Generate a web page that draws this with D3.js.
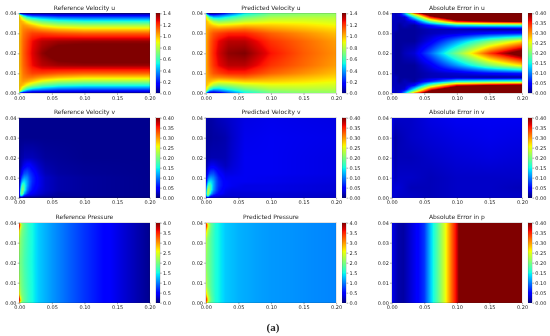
<!DOCTYPE html>
<html>
<head>
<meta charset="utf-8">
<script src="https://cdn.jsdelivr.net/npm/d3@7"></script>
<style>
  html, body { margin: 0; padding: 0; background: #fff; }
  #wrap { position: relative; width: 550px; height: 336px; overflow: hidden; }
  canvas, svg { position: absolute; left: 0; top: 0; }
  text { font-family: "DejaVu Sans", sans-serif; fill: #262626; }
</style>
</head>
<body>
<div id="wrap">
  <canvas id="heat" width="550" height="336"></canvas>
  <svg id="chart" width="550" height="336"></svg>
</div>
<script>
// values, rows go bottom to top
const uX = [0, 0.002, 0.006, 0.012, 0.02, 0.035, 0.06, 0.1, 0.15, 0.2];
const uY = [0, 0.001, 0.002, 0.004, 0.006, 0.008, 0.01, 0.014, 0.02, 0.026, 0.03, 0.032, 0.034, 0.036, 0.038, 0.039, 0.04];

const refU = [
  [0.5, 0, 0, 0, 0, 0, 0, 0, 0, 0],
  [0.9, 0.75, 0.45, 0.3, 0.22, 0.2, 0.16, 0.15, 0.15, 0.15],
  [0.95, 0.95, 0.75, 0.55, 0.45, 0.38, 0.31, 0.29, 0.29, 0.29],
  [0.95, 1.02, 0.98, 0.88, 0.78, 0.66, 0.58, 0.54, 0.54, 0.54],
  [0.95, 1.02, 1.05, 1.03, 0.98, 0.88, 0.8, 0.77, 0.77, 0.77],
  [0.96, 1.03, 1.08, 1.1, 1.1, 1.05, 1.0, 0.96, 0.96, 0.96],
  [0.97, 1.03, 1.1, 1.14, 1.18, 1.18, 1.15, 1.13, 1.13, 1.13],
  [0.98, 1.05, 1.12, 1.18, 1.26, 1.33, 1.36, 1.37, 1.37, 1.37],
  [0.98, 1.05, 1.13, 1.2, 1.28, 1.38, 1.47, 1.5, 1.5, 1.5],
  [0.98, 1.05, 1.12, 1.18, 1.26, 1.33, 1.36, 1.37, 1.37, 1.37],
  [0.97, 1.03, 1.1, 1.14, 1.18, 1.18, 1.15, 1.13, 1.13, 1.13],
  [0.96, 1.03, 1.08, 1.1, 1.1, 1.05, 1.0, 0.96, 0.96, 0.96],
  [0.95, 1.02, 1.05, 1.03, 0.98, 0.88, 0.8, 0.77, 0.77, 0.77],
  [0.95, 1.02, 0.98, 0.88, 0.78, 0.66, 0.58, 0.54, 0.54, 0.54],
  [0.95, 0.95, 0.75, 0.55, 0.45, 0.38, 0.31, 0.29, 0.29, 0.29],
  [0.9, 0.75, 0.45, 0.3, 0.22, 0.2, 0.16, 0.15, 0.15, 0.15],
  [0.5, 0, 0, 0, 0, 0, 0, 0, 0, 0]
];

const predU = [
  [0.6, 0.1, 0, 0.02, 0.05, 0.25, 0.5, 0.68, 0.72, 0.74],
  [0.85, 0.6, 0.3, 0.25, 0.3, 0.4, 0.58, 0.72, 0.75, 0.76],
  [0.95, 0.85, 0.6, 0.45, 0.45, 0.55, 0.68, 0.78, 0.8, 0.8],
  [1, 0.98, 0.9, 0.78, 0.72, 0.75, 0.82, 0.87, 0.87, 0.85],
  [1, 1, 1, 0.96, 0.92, 0.94, 0.98, 0.97, 0.94, 0.9],
  [1, 1.03, 1.06, 1.08, 1.08, 1.1, 1.12, 1.05, 1, 0.95],
  [1, 1.04, 1.1, 1.15, 1.18, 1.22, 1.22, 1.13, 1.06, 0.99],
  [1, 1.05, 1.13, 1.2, 1.27, 1.33, 1.33, 1.2, 1.12, 1.04],
  [1, 1.05, 1.14, 1.22, 1.3, 1.38, 1.4, 1.25, 1.14, 1.06],
  [1, 1.05, 1.13, 1.2, 1.27, 1.33, 1.33, 1.2, 1.12, 1.04],
  [1, 1.04, 1.1, 1.15, 1.18, 1.22, 1.22, 1.13, 1.06, 0.99],
  [1, 1.03, 1.06, 1.08, 1.08, 1.1, 1.12, 1.05, 1, 0.95],
  [1, 1, 1, 0.96, 0.92, 0.94, 0.98, 0.97, 0.94, 0.9],
  [1, 0.98, 0.9, 0.78, 0.72, 0.75, 0.82, 0.87, 0.87, 0.85],
  [0.95, 0.85, 0.6, 0.45, 0.45, 0.55, 0.68, 0.78, 0.8, 0.8],
  [0.85, 0.6, 0.3, 0.25, 0.3, 0.4, 0.58, 0.72, 0.75, 0.76],
  [0.6, 0.1, 0, 0.02, 0.05, 0.25, 0.5, 0.68, 0.72, 0.74]
];

const errU = [
  [0.02, 0.03, 0.02, 0.03, 0.12, 0.32, 0.5, 0.68, 0.72, 0.74],
  [0.02, 0.03, 0.02, 0.03, 0.08, 0.22, 0.42, 0.58, 0.6, 0.62],
  [0.02, 0.03, 0.02, 0.02, 0.03, 0.15, 0.35, 0.5, 0.53, 0.55],
  [0.02, 0.02, 0.02, 0.02, 0.02, 0.05, 0.2, 0.36, 0.4, 0.42],
  [0.02, 0.02, 0.02, 0.01, 0.02, 0.01, 0.06, 0.14, 0.16, 0.17],
  [0.02, 0.02, 0.02, 0.01, 0.01, 0.01, 0.02, 0.02, 0.01, 0.01],
  [0.02, 0.02, 0.01, 0.01, 0.01, 0.01, 0.02, 0.03, 0.05, 0.06],
  [0.02, 0.02, 0.01, 0.01, 0.01, 0.01, 0.04, 0.11, 0.2, 0.27],
  [0.02, 0.02, 0.01, 0.01, 0.02, 0.03, 0.09, 0.2, 0.34, 0.44],
  [0.02, 0.02, 0.01, 0.01, 0.01, 0.01, 0.04, 0.11, 0.2, 0.27],
  [0.02, 0.02, 0.01, 0.01, 0.01, 0.01, 0.02, 0.03, 0.05, 0.06],
  [0.02, 0.02, 0.02, 0.01, 0.01, 0.01, 0.02, 0.02, 0.01, 0.01],
  [0.02, 0.02, 0.02, 0.01, 0.02, 0.01, 0.06, 0.14, 0.16, 0.17],
  [0.02, 0.02, 0.02, 0.02, 0.02, 0.05, 0.2, 0.36, 0.4, 0.42],
  [0.02, 0.03, 0.02, 0.02, 0.03, 0.15, 0.35, 0.5, 0.53, 0.55],
  [0.02, 0.03, 0.02, 0.03, 0.08, 0.22, 0.42, 0.58, 0.6, 0.62],
  [0.02, 0.03, 0.02, 0.03, 0.12, 0.32, 0.5, 0.68, 0.72, 0.74]
];

const vX = [0, 0.002, 0.004, 0.006, 0.008, 0.012, 0.016, 0.02, 0.03, 0.04, 0.06, 0.1, 0.2];
const vY = [0, 0.001, 0.002, 0.004, 0.006, 0.008, 0.01, 0.012, 0.016, 0.02, 0.03, 0.04];

const refV = [
  [0, 0, 0, 0, 0, 0, 0, 0, 0, 0, 0, 0, 0],
  [0.02, 0.13, 0.14, 0.09, 0.06, 0.04, 0.03, 0.03, 0.02, 0.015, 0.01, 0.01, 0.005],
  [0.03, 0.17, 0.2, 0.16, 0.11, 0.07, 0.05, 0.04, 0.03, 0.02, 0.01, 0.01, 0.005],
  [0.03, 0.14, 0.2, 0.2, 0.16, 0.1, 0.07, 0.055, 0.035, 0.025, 0.015, 0.01, 0.005],
  [0.02, 0.1, 0.17, 0.18, 0.16, 0.115, 0.08, 0.06, 0.04, 0.025, 0.015, 0.01, 0.005],
  [0.015, 0.07, 0.12, 0.14, 0.14, 0.115, 0.085, 0.065, 0.04, 0.025, 0.015, 0.01, 0.005],
  [0.01, 0.05, 0.08, 0.1, 0.11, 0.105, 0.08, 0.065, 0.04, 0.025, 0.015, 0.01, 0.005],
  [0.01, 0.03, 0.05, 0.07, 0.08, 0.085, 0.07, 0.06, 0.035, 0.02, 0.012, 0.008, 0.005],
  [0.005, 0.015, 0.025, 0.035, 0.04, 0.05, 0.05, 0.04, 0.025, 0.015, 0.01, 0.007, 0.005],
  [0.005, 0.01, 0.015, 0.015, 0.02, 0.02, 0.02, 0.02, 0.015, 0.01, 0.008, 0.005, 0.005],
  [0.005, 0.005, 0.005, 0.005, 0.005, 0.005, 0.005, 0.005, 0.005, 0.005, 0.005, 0.005, 0.005],
  [0.005, 0.005, 0.005, 0.005, 0.005, 0.005, 0.005, 0.005, 0.005, 0.005, 0.005, 0.005, 0.005]
];

const predV = [
  [0.02, 0.04, 0.03, 0.02, 0.02, 0.02, 0.02, 0.02, 0.02, 0.02, 0.025, 0.03, 0.025],
  [0.05, 0.18, 0.17, 0.1, 0.07, 0.05, 0.04, 0.035, 0.03, 0.03, 0.03, 0.03, 0.025],
  [0.06, 0.22, 0.22, 0.17, 0.12, 0.08, 0.06, 0.05, 0.035, 0.03, 0.03, 0.03, 0.027],
  [0.05, 0.18, 0.23, 0.2, 0.16, 0.11, 0.08, 0.06, 0.04, 0.035, 0.035, 0.035, 0.03],
  [0.035, 0.13, 0.18, 0.18, 0.16, 0.115, 0.085, 0.065, 0.045, 0.04, 0.035, 0.035, 0.03],
  [0.025, 0.09, 0.13, 0.14, 0.14, 0.115, 0.085, 0.065, 0.045, 0.04, 0.04, 0.038, 0.032],
  [0.02, 0.06, 0.09, 0.105, 0.11, 0.1, 0.08, 0.06, 0.04, 0.04, 0.04, 0.038, 0.033],
  [0.015, 0.04, 0.06, 0.075, 0.08, 0.08, 0.065, 0.05, 0.035, 0.035, 0.04, 0.04, 0.035],
  [0.01, 0.02, 0.03, 0.035, 0.04, 0.04, 0.035, 0.03, 0.022, 0.03, 0.04, 0.04, 0.035],
  [0.01, 0.012, 0.015, 0.015, 0.017, 0.017, 0.017, 0.017, 0.018, 0.027, 0.04, 0.04, 0.035],
  [0.012, 0.01, 0.01, 0.01, 0.01, 0.012, 0.012, 0.013, 0.016, 0.025, 0.038, 0.04, 0.037],
  [0.02, 0.015, 0.013, 0.013, 0.013, 0.015, 0.018, 0.02, 0.024, 0.028, 0.035, 0.038, 0.035]
];

const evX = [0, 0.005, 0.01, 0.03, 0.06, 0.1, 0.15, 0.2];
const evY = [0, 0.005, 0.01, 0.02, 0.03, 0.04];

const errV = [
  [0.03, 0.03, 0.025, 0.025, 0.02, 0.025, 0.025, 0.025],
  [0.03, 0.03, 0.03, 0.02, 0.02, 0.025, 0.025, 0.02],
  [0.04, 0.02, 0.025, 0.025, 0.02, 0.025, 0.025, 0.025],
  [0.035, 0.015, 0.02, 0.02, 0.025, 0.03, 0.033, 0.03],
  [0.035, 0.012, 0.018, 0.025, 0.03, 0.035, 0.038, 0.035],
  [0.04, 0.025, 0.025, 0.025, 0.035, 0.04, 0.04, 0.04]
];

const pX = [0, 0.002, 0.004, 0.008, 0.015, 0.03, 0.05, 0.08, 0.1, 0.13, 0.16, 0.2];
const pY = [0, 0.001, 0.002, 0.004, 0.008, 0.02, 0.032, 0.036, 0.038, 0.039, 0.04];

const refP = [
  [3, 2.2, 1.9, 1.8, 1.6, 1.3, 1.1, 0.85, 0.7, 0.5, 0.3, 0.05],
  [3.6, 2.8, 2.1, 1.85, 1.6, 1.3, 1.1, 0.85, 0.7, 0.5, 0.3, 0.05],
  [3.6, 2.6, 2.1, 1.85, 1.6, 1.3, 1.1, 0.85, 0.7, 0.5, 0.3, 0.05],
  [2.7, 2.2, 2, 1.85, 1.6, 1.3, 1.1, 0.85, 0.7, 0.5, 0.3, 0.05],
  [2.3, 2.05, 1.95, 1.8, 1.6, 1.3, 1.1, 0.85, 0.7, 0.5, 0.3, 0.05],
  [2, 1.95, 1.9, 1.75, 1.58, 1.3, 1.1, 0.85, 0.7, 0.5, 0.3, 0.05],
  [2.3, 2.05, 1.95, 1.8, 1.6, 1.3, 1.1, 0.85, 0.7, 0.5, 0.3, 0.05],
  [2.7, 2.2, 2, 1.85, 1.6, 1.3, 1.1, 0.85, 0.7, 0.5, 0.3, 0.05],
  [3.6, 2.6, 2.1, 1.85, 1.6, 1.3, 1.1, 0.85, 0.7, 0.5, 0.3, 0.05],
  [3.6, 2.8, 2.1, 1.85, 1.6, 1.3, 1.1, 0.85, 0.7, 0.5, 0.3, 0.05],
  [3, 2.2, 1.9, 1.8, 1.6, 1.3, 1.1, 0.85, 0.7, 0.5, 0.3, 0.05]
];

const predP = [
  [3.2, 2.6, 2.1, 1.85, 1.55, 1.3, 1.2, 1.13, 1.1, 1.08, 1.05, 1.02],
  [3.8, 3.1, 2.4, 1.9, 1.55, 1.3, 1.2, 1.13, 1.1, 1.08, 1.05, 1.02],
  [3.7, 3, 2.4, 1.9, 1.55, 1.3, 1.2, 1.13, 1.1, 1.08, 1.05, 1.02],
  [3, 2.5, 2.2, 1.85, 1.55, 1.3, 1.2, 1.13, 1.1, 1.08, 1.05, 1.02],
  [2.4, 2.15, 2, 1.8, 1.55, 1.3, 1.2, 1.13, 1.1, 1.08, 1.05, 1.02],
  [2.1, 2, 1.95, 1.8, 1.55, 1.3, 1.2, 1.13, 1.1, 1.08, 1.05, 1.02],
  [2.4, 2.15, 2, 1.8, 1.55, 1.3, 1.2, 1.13, 1.1, 1.08, 1.05, 1.02],
  [3, 2.5, 2.2, 1.85, 1.55, 1.3, 1.2, 1.13, 1.1, 1.08, 1.05, 1.02],
  [3.7, 3, 2.4, 1.9, 1.55, 1.3, 1.2, 1.13, 1.1, 1.08, 1.05, 1.02],
  [3.8, 3.1, 2.4, 1.9, 1.55, 1.3, 1.2, 1.13, 1.1, 1.08, 1.05, 1.02],
  [3.2, 2.6, 2.1, 1.85, 1.55, 1.3, 1.2, 1.13, 1.1, 1.08, 1.05, 1.02]
];

const epX = [0, 0.005, 0.01, 0.018, 0.036, 0.05, 0.06, 0.07, 0.082, 0.092, 0.1, 0.105, 0.2];
const epY = [0, 0.04];
const errP = [
  [0.04, 0.025, 0.015, 0.012, 0.04, 0.07, 0.13, 0.18, 0.25, 0.32, 0.37, 0.42, 1],
  [0.04, 0.025, 0.015, 0.012, 0.04, 0.07, 0.13, 0.18, 0.25, 0.32, 0.37, 0.42, 1]
];

const titles = [
  "Reference Velocity u", "Predicted Velocity u", "Absolute Error in u",
  "Reference Velocity v", "Predicted Velocity v", "Absolute Error in v",
  "Reference Pressure", "Predicted Pressure", "Absolute Error in p"
];
const xTicks = [0, 0.05, 0.1, 0.15, 0.2];
const yTicks = [0, 0.01, 0.02, 0.03, 0.04];
const ticksU = [0, 0.2, 0.4, 0.6, 0.8, 1.0, 1.2, 1.4];
const ticksErr = [0, 0.05, 0.1, 0.15, 0.2, 0.25, 0.3, 0.35, 0.4];
const ticksP = [0, 0.5, 1, 1.5, 2, 2.5, 3, 3.5, 4];

const panels = [
  { z: refU, xs: uX, ys: uY, cticks: ticksU, cfmt: ".1f" },
  { z: predU, xs: uX, ys: uY, cticks: ticksU, cfmt: ".1f" },
  { z: errU, xs: uX, ys: uY, cticks: ticksErr, cfmt: ".2f" },
  { z: refV, xs: vX, ys: vY, cticks: ticksErr, cfmt: ".2f" },
  { z: predV, xs: vX, ys: vY, cticks: ticksErr, cfmt: ".2f" },
  { z: errV, xs: evX, ys: evY, cticks: ticksErr, cfmt: ".2f" },
  { z: refP, xs: pX, ys: pY, cticks: ticksP, cfmt: ".1f" },
  { z: predP, xs: pX, ys: pY, cticks: ticksP, cfmt: ".1f" },
  { z: errP, xs: epX, ys: epY, cticks: ticksErr, cfmt: ".2f" }
];

// layout in pixels
const lefts = [19.3, 205.8, 391.7];
const tops = [13.3, 117.7, 222.7];
const plotW = 130.3, plotH = 80;
const barGap = 136.4, barW = 4.4;

// jet colormap
const jetR = d3.scaleLinear([0, 0.35, 0.66, 0.89, 1], [0, 0, 255, 255, 128]).clamp(true);
const jetG = d3.scaleLinear([0, 0.125, 0.375, 0.64, 0.91, 1], [0, 0, 255, 255, 0, 0]).clamp(true);
const jetB = d3.scaleLinear([0, 0.11, 0.34, 0.65, 1], [128, 255, 255, 0, 0]).clamp(true);
const jet = t => `rgb(${jetR(t) | 0},${jetG(t) | 0},${jetB(t) | 0})`;

const ctx = document.getElementById("heat").getContext("2d");
const svg = d3.select("#chart");

panels.forEach((p, i) => {
  const left = lefts[i % 3], top = tops[Math.floor(i / 3)];
  const x = d3.scaleLinear([0, 0.2], [left, left + plotW]);
  const y = d3.scaleLinear([0, 0.04], [top + plotH, top]);
  const vmax = d3.max(p.cticks);
  const color = d3.scaleSequential(jet).domain([0, vmax]).clamp(true);

  // gouraud style shading between the read values
  const rowScales = p.z.map(r => d3.scaleLinear(p.xs, r));
  const px0 = Math.round(left), px1 = Math.round(left + plotW);
  const py0 = Math.round(top), py1 = Math.round(top + plotH);
  for (let px = px0; px < px1; px++) {
    const xv = Math.min(0.2, Math.max(0, x.invert(px + 0.5)));
    const col = d3.scaleLinear(p.ys, rowScales.map(s => s(xv)));
    for (let py = py0; py < py1; py++) {
      const yv = Math.min(0.04, Math.max(0, y.invert(py + 0.5)));
      ctx.fillStyle = color(col(yv));
      ctx.fillRect(px, py, 1, 1);
    }
  }

  const g = svg.append("g");
  g.append("text")
    .attr("x", left + plotW / 2)
    .attr("y", top - 3.4)
    .attr("text-anchor", "middle")
    .style("font-size", "6px")
    .text(titles[i]);

  const gx = g.append("g").attr("transform", `translate(0,${top + plotH})`)
    .call(d3.axisBottom(x).tickValues(xTicks).tickFormat(d3.format(".2f")).tickSize(1.6).tickPadding(1.2));
  const gy = g.append("g").attr("transform", `translate(${left},0)`)
    .call(d3.axisLeft(y).tickValues(yTicks).tickFormat(d3.format(".2f")).tickSize(1.6).tickPadding(1.2));

  // colorbar
  const barX = left + barGap;
  const cbar = d3.scaleLinear([0, vmax], [top + plotH, top]);
  for (let py = py0; py < py1; py++) {
    ctx.fillStyle = color(cbar.invert(py + 0.5));
    ctx.fillRect(Math.round(barX), py, Math.round(barW), 1);
  }
  const gc = g.append("g").attr("transform", `translate(${barX + barW},0)`)
    .call(d3.axisRight(cbar).tickValues(p.cticks).tickFormat(d3.format(p.cfmt)).tickSize(1.6).tickPadding(1.2));

  [gx, gy, gc].forEach(a => {
    a.selectAll("text").style("font-size", "5px").style("font-family", null);
    a.selectAll("line").attr("stroke", "#262626").attr("stroke-width", 0.4);
    a.select(".domain").remove();
  });

  g.append("rect")
    .attr("x", left).attr("y", top).attr("width", plotW).attr("height", plotH)
    .attr("fill", "none").attr("stroke", "#262626").attr("stroke-opacity", 0.35).attr("stroke-width", 0.4);
  g.append("rect")
    .attr("x", barX).attr("y", top).attr("width", barW).attr("height", plotH)
    .attr("fill", "none").attr("stroke", "#262626").attr("stroke-opacity", 0.35).attr("stroke-width", 0.4);
});

svg.append("text")
  .attr("x", 273)
  .attr("y", 331)
  .attr("text-anchor", "middle")
  .style("font-family", "'Liberation Serif', serif")
  .style("font-weight", "bold")
  .style("font-size", "11px")
  .text("(a)");
</script>
</body>
</html>
